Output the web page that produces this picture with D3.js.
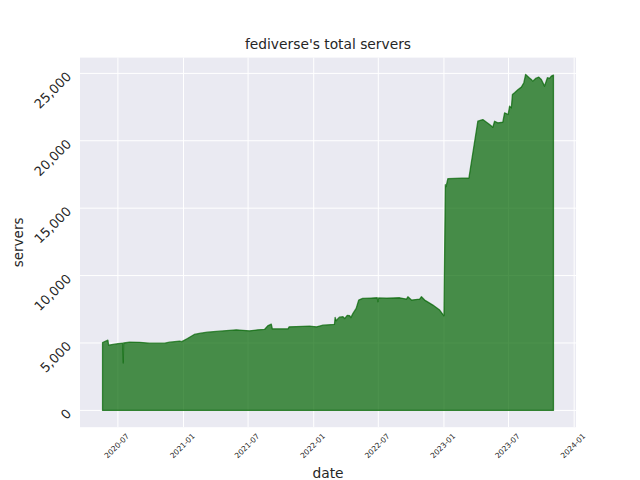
<!DOCTYPE html>
<html>
<head>
<meta charset="utf-8">
<script src="https://cdn.jsdelivr.net/npm/d3@7"></script>
<style>
  html, body { margin: 0; padding: 0; background: #ffffff; }
  svg { display: block; font-family: "DejaVu Sans", sans-serif; }
</style>
</head>
<body>
<svg id="chart" width="640" height="480"></svg>
<script>
// ---- data ----
const dates = [
  "2020-05-19","2020-06-03","2020-06-05","2020-06-22","2020-07-01","2020-07-15","2020-07-16","2020-07-17",
  "2020-08-03","2020-08-31","2020-09-28","2020-11-09","2020-11-23","2020-12-21","2020-12-27",
  "2021-01-12","2021-01-31","2021-02-18","2021-03-09","2021-04-12","2021-05-29","2021-07-05",
  "2021-07-28","2021-08-16","2021-08-25","2021-09-04","2021-09-07","2021-10-21","2021-10-24",
  "2021-12-20","2022-01-09","2022-01-27","2022-02-28","2022-03-02","2022-03-05","2022-03-08","2022-03-14",
  "2022-03-24","2022-03-29","2022-04-05","2022-04-12","2022-04-15","2022-04-21","2022-04-30","2022-05-07","2022-05-18",
  "2022-06-10","2022-06-28","2022-06-30","2022-07-02","2022-07-25","2022-08-30","2022-09-18",
  "2022-09-22","2022-10-02","2022-10-25","2022-10-30","2022-11-08","2022-12-01","2022-12-20",
  "2023-01-01","2023-01-05","2023-01-07","2023-01-12","2023-03-12","2023-04-06","2023-04-20","2023-05-09",
  "2023-05-18","2023-05-23","2023-06-01","2023-06-15","2023-06-20","2023-06-30","2023-07-04",
  "2023-07-09","2023-07-12","2023-07-18","2023-07-28","2023-08-06","2023-08-13","2023-08-18",
  "2023-08-28","2023-09-03","2023-09-07","2023-09-15","2023-09-24","2023-10-01","2023-10-10",
  "2023-10-18","2023-10-24","2023-10-29","2023-11-04"
];
const servers = [
  5037,5208,4836,4910,4950,4985,3519,5000,
  5059,5050,4985,4990,5059,5134,5100,
  5334,5632,5729,5803,5878,5974,5900,
  5974,6004,6272,6398,6049,6049,6198,
  6250,6198,6324,6376,6897,6650,6750,6919,
  6950,6820,7050,7020,6880,7194,7566,8184,8308,
  8330,8355,8060,8340,8320,8355,8258,
  8429,8184,8258,8429,8184,7812,7440,
  7016,16740,16600,17186,17240,21450,21576,21204,
  21004,21450,21330,21375,22075,21948,22565,
  22446,23436,23560,23808,23981,24306,24924,
  24678,24552,24425,24626,24722,24552,24055,
  24678,24626,24800,24874
];
const yTicks = [0, 5000, 10000, 15000, 20000, 25000];
const xTickLabels = ["2020-07","2021-01","2021-07","2022-01","2022-07","2023-01","2023-07","2024-01"];
const titleText = "fediverse's total servers";
const xLabelText = "date";
const yLabelText = "servers";

(function () {
  const svg = d3.select("#chart");
  const pL = 80, pR = 576, pT = 57.6, pB = 427.2;

  const parse = d3.timeParse("%Y-%m-%d");
  const data = dates.map((d, i) => ({ date: parse(d), value: servers[i] }));
  const tickDates = xTickLabels.map(s => d3.timeParse("%Y-%m")(s));

  // matplotlib-style 5% margins
  const xExt = d3.extent(data, d => +d.date);
  const xPad = (xExt[1] - xExt[0]) * 0.05;
  const x = d3.scaleTime()
    .domain([new Date(xExt[0] - xPad), new Date(xExt[1] + xPad)])
    .range([pL, pR]);

  const yMax = d3.max(servers), yMin = 0;
  const yPad = (yMax - yMin) * 0.05;
  const y = d3.scaleLinear()
    .domain([yMin - yPad, yMax + yPad])
    .range([pB, pT]);

  // background
  svg.append("rect")
    .attr("x", pL).attr("y", pT)
    .attr("width", pR - pL).attr("height", pB - pT)
    .attr("fill", "#EAEAF2");

  // grid
  const grid = svg.append("g");
  grid.selectAll("line.h").data(yTicks).join("line")
    .attr("x1", pL).attr("x2", pR)
    .attr("y1", d => y(d)).attr("y2", d => y(d))
    .attr("stroke", "#ffffff").attr("stroke-width", 1);
  grid.selectAll("line.v").data(tickDates).join("line")
    .attr("y1", pT).attr("y2", pB)
    .attr("x1", d => x(d)).attr("x2", d => x(d))
    .attr("stroke", "#ffffff").attr("stroke-width", 1);

  // area
  const area = d3.area()
    .x(d => x(d.date))
    .y0(y(0))
    .y1(d => y(d.value));
  svg.append("path")
    .datum(data)
    .attr("d", area)
    .attr("fill", "darkgreen")
    .attr("fill-opacity", 0.7)
    .attr("stroke", "darkgreen")
    .attr("stroke-opacity", 0.7)
    .attr("stroke-width", 1.3)
    .attr("stroke-linejoin", "round");

  // y tick labels (rotated 45deg)
  const fmt = d3.format(",");
  svg.append("g").selectAll("text").data(yTicks).join("text")
    .attr("transform", d => `translate(72,${y(d) + 4}) rotate(-45)`)
    .attr("text-anchor", "end")
    .attr("font-size", 13)
    .attr("fill", "#262626")
    .text(d => fmt(d));

  // x tick labels (rotated 45deg)
  svg.append("g").selectAll("text").data(tickDates).join("text")
    .attr("transform", d => `translate(${x(d) - 1},446) rotate(-45)`)
    .attr("text-anchor", "middle")
    .attr("dominant-baseline", "central")
    .attr("font-size", 7.5)
    .attr("fill", "#262626")
    .text((d, i) => xTickLabels[i]);

  // title & axis labels
  svg.append("text")
    .attr("x", (pL + pR) / 2).attr("y", 49)
    .attr("text-anchor", "middle")
    .attr("font-size", 13.8)
    .attr("fill", "#262626")
    .text(titleText);

  svg.append("text")
    .attr("x", (pL + pR) / 2).attr("y", 478)
    .attr("text-anchor", "middle")
    .attr("font-size", 13.8)
    .attr("fill", "#262626")
    .text(xLabelText);

  svg.append("text")
    .attr("transform", `translate(23,${(pT + pB) / 2}) rotate(-90)`)
    .attr("text-anchor", "middle")
    .attr("font-size", 13.5)
    .attr("fill", "#262626")
    .text(yLabelText);
})();
</script>
</body>
</html>
